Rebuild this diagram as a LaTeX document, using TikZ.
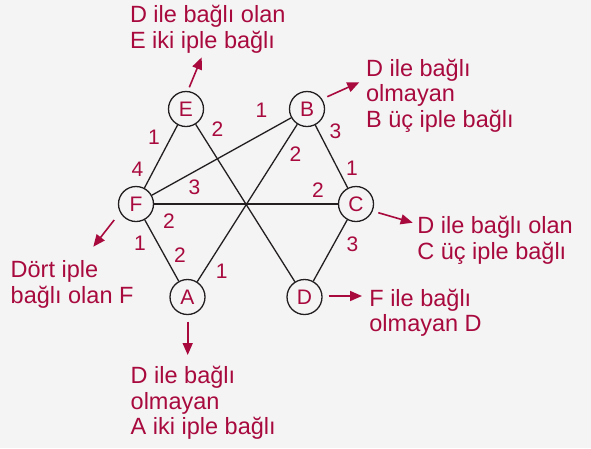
\documentclass[tikz,border=0pt]{standalone}
\usepackage{fontspec}
\setmainfont{Liberation Sans}
\usetikzlibrary{arrows.meta}
\definecolor{crim}{RGB}{168,10,62}
\definecolor{bg}{RGB}{244,244,244}
\definecolor{ink}{RGB}{35,31,32}
\begin{document}
\begin{tikzpicture}[x=1pt,y=-1pt,
  vert/.style={circle,draw=ink,line width=1.3pt,minimum size=35pt,inner sep=0pt,text=crim,font=\fontsize{21}{21}\selectfont},
  edge/.style={draw=ink,line width=1.3pt},
  num/.style={text=crim,inner sep=0pt,font=\fontsize{21}{21}\selectfont},
  note/.style={text=crim,inner sep=0pt,anchor=base west,font=\fontsize{23.5}{25.7}\selectfont},
  pointer/.style={draw=crim,line width=1.6pt,-{Triangle[length=12pt,width=10pt]}}]
\fill[bg] (0,0) rectangle (591,448);
\useasboundingbox (0,0) rectangle (591,448);
% vertices
\node[vert] (E) at (186,109) {E};
\node[vert] (B) at (307,109) {B};
\node[vert] (F) at (136,204) {F};
\node[vert] (C) at (356,204) {C};
\node[vert] (A) at (187.5,297) {A};
\node[vert] (D) at (304.5,297) {D};
% edges
\draw[edge] (E) -- (F);
\draw[edge] (E) -- (D);
\draw[edge] (B) -- (F);
\draw[edge] (B) -- (A);
\draw[edge] (B) -- (C);
\draw[edge] (F) -- (C);
\draw[edge] (F) -- (A);
\draw[edge] (C) -- (D);
% edge numbers
\node[num] (n1) at (154,137) {1};
\node[num] (n2) at (137.5,169.5) {4};
\node[num] (n3) at (217.5,129.5) {2};
\node[num] (n4) at (261.5,110) {1};
\node[num] (n5) at (194.5,187) {3};
\node[num] (n6) at (295.5,154) {2};
\node[num] (n7) at (335.5,131) {3};
\node[num] (n8) at (352,168.5) {1};
\node[num] (n9) at (318,190.5) {2};
\node[num] (n10) at (169,221) {2};
\node[num] (n11) at (140,243) {1};
\node[num] (n12) at (180,255.5) {2};
\node[num] (n13) at (221.7,271.5) {1};
\node[num] (n14) at (352.5,244) {3};
% notes
\node[note] (tE) at (129.8,22.7) {\begin{tabular}[t]{@{}l@{}}D ile bağlı olan\\E iki iple bağlı\end{tabular}};
\node[note] (tB) at (365.9,76) {\begin{tabular}[t]{@{}l@{}}D ile bağlı\\olmayan\\B üç iple bağlı\end{tabular}};
\node[note] (tC) at (417.2,233.3) {\begin{tabular}[t]{@{}l@{}}D ile bağlı olan\\C üç iple bağlı\end{tabular}};
\node[note] (tD) at (369.2,306) {\begin{tabular}[t]{@{}l@{}}F ile bağlı\\olmayan D\end{tabular}};
\node[note] (tF) at (10.5,277.3) {\begin{tabular}[t]{@{}l@{}}Dört iple\\bağlı olan F\end{tabular}};
\node[note] (tA) at (130.5,383.3) {\begin{tabular}[t]{@{}l@{}}D ile bağlı\\olmayan\\A iki iple bağlı\end{tabular}};
% pointer arrows
\coordinate (eS) at (189.3,87.3);  \coordinate (eT) at (201.7,57.3);
\coordinate (bS) at (327.3,96.7);  \coordinate (bT) at (359.3,82.3);
\coordinate (cS) at (378.3,212.7); \coordinate (cT) at (412.7,222.7);
\coordinate (dS) at (328.5,296);   \coordinate (dT) at (362,296);
\coordinate (aS) at (187.7,321.7); \coordinate (aT) at (187.7,355);
\coordinate (fS) at (114.2,220);   \coordinate (fT) at (93.3,246.7);
\draw[pointer] (eS) -- (eT);
\draw[pointer] (bS) -- (bT);
\draw[pointer] (cS) -- (cT);
\draw[pointer] (dS) -- (dT);
\draw[pointer] (aS) -- (aT);
\draw[pointer] (fS) -- (fT);
\end{tikzpicture}
\end{document}
